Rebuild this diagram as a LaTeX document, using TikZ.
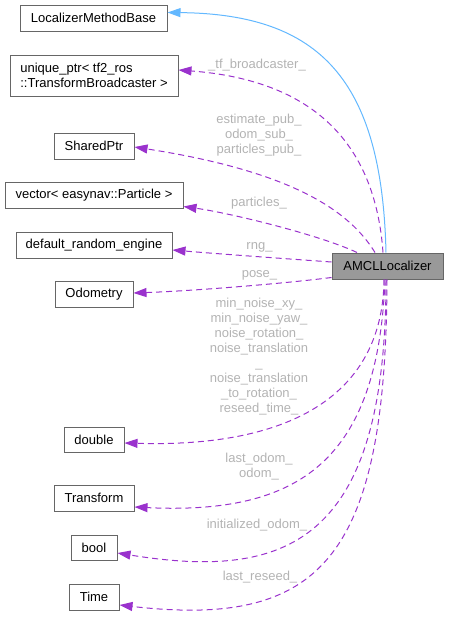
\documentclass[tikz,border=0pt]{standalone}
\usepackage{fontspec}
\setmainfont{Liberation Sans}
\usetikzlibrary{arrows.meta}
\definecolor{nodeborder}{HTML}{666666}
\definecolor{amclfill}{HTML}{999999}
\definecolor{deppurple}{HTML}{9A32CD}
\definecolor{inhblue}{HTML}{63B8FF}
\definecolor{labelgray}{HTML}{B3B3B3}
\begin{document}
\begin{tikzpicture}[x=1pt,y=-1pt,
  cls/.style={draw=nodeborder, line width=1pt, inner sep=0pt, minimum height=26pt,
    font=\fontsize{13}{15}\selectfont, text=black},
  lbl/.style={text=labelgray, inner sep=0pt, align=center, font=\fontsize{13}{15}\selectfont},
  dep/.style={draw=deppurple, line width=1pt, dash pattern=on 6pt off 4pt,
    -{Triangle[length=13pt,width=9pt]}},
  inh/.style={draw=inhblue, line width=1pt, -{Triangle[length=13pt,width=9pt]}}
]
\useasboundingbox (0,0) rectangle (448,621);
% nodes
\node[cls, minimum width=147pt] (base) at (93.5,18) {LocalizerMethodBase};
\node[cls, minimum width=168pt, minimum height=41pt, align=left] (unique) at (94,75.5) {unique\_ptr< tf2\_ros\\::TransformBroadcaster >};
\node[cls, minimum width=80pt] (shared) at (94,146) {SharedPtr};
\node[cls, minimum width=178pt] (vector) at (94,195.5) {vector< easynav::Particle >};
\node[cls, minimum width=156pt] (dre) at (94,245) {default\_random\_engine};
\node[cls, minimum width=78pt] (odom) at (94,294) {Odometry};
\node[cls, minimum width=111pt, fill=amclfill] (amcl) at (387.5,266) {AMCLLocalizer};
\node[cls, minimum width=60pt, minimum height=25pt] (double) at (94,439.5) {double};
\node[cls, minimum width=80pt] (transform) at (94,498) {Transform};
\node[cls, minimum width=46pt, minimum height=25pt] (bool) at (94,547.5) {bool};
\node[cls, minimum width=50pt] (time) at (94,597) {Time};
% inheritance
\draw[inh] ([xshift=-1.5pt]amcl.north) .. controls (382,80) and (320,14) .. ([yshift=5.5pt]base.east);
% dependencies (top)
\draw[dep] ([xshift=-4.5pt]amcl.north) .. controls (375,140) and (310,80) .. ([yshift=5.5pt]unique.east);
\draw[dep] ([xshift=-12.5pt]amcl.north) .. controls (350,212) and (295,172) .. ([yshift=-1pt]shared.east);
\draw[dep] ([xshift=-30.5pt]amcl.north) .. controls (320,235) and (230,213) .. ([yshift=-11pt]vector.east);
\draw[dep] ([yshift=4pt]amcl.west) .. controls (290,259) and (220,254) .. ([yshift=-5pt]dre.east);
\draw[dep] ([yshift=2pt]amcl.south west) .. controls (280,284) and (190,291) .. ([yshift=1pt]odom.east);
% dependencies (bottom)
\draw[dep] ([xshift=-3.5pt]amcl.south) .. controls (383,385) and (305,448) .. ([yshift=-3.5pt]double.east);
\draw[dep] ([xshift=-2.5pt]amcl.south) .. controls (378,460) and (300,515) .. ([yshift=-9pt]transform.east);
\draw[dep] ([xshift=-1.5pt]amcl.south) .. controls (386,545) and (285,580) .. ([yshift=-5.5pt]bool.east);
\draw[dep] ([xshift=-0.5pt]amcl.south) .. controls (386,560) and (320,628) .. ([yshift=-8pt]time.east);
% labels
\node[lbl] (l1) at (257,65) {\_tf\_broadcaster\_};
\node[lbl] (l2) at (259,135) {estimate\_pub\_\\odom\_sub\_\\particles\_pub\_};
\node[lbl] (l3) at (259,203) {particles\_};
\node[lbl] (l4) at (259.5,247.5) {rng\_};
\node[lbl] (l5) at (259.5,275) {pose\_};
\node[lbl] (l6) at (259,356.5) {min\_noise\_xy\_\\min\_noise\_yaw\_\\noise\_rotation\_\\noise\_translation\\\_\\noise\_translation\\\_to\_rotation\_\\reseed\_time\_};
\node[lbl] (l7) at (259,467) {last\_odom\_\\odom\_};
\node[lbl] (l8) at (257,525) {initialized\_odom\_};
\node[lbl] (l9) at (260,577) {last\_reseed\_};
\end{tikzpicture}
\end{document}
